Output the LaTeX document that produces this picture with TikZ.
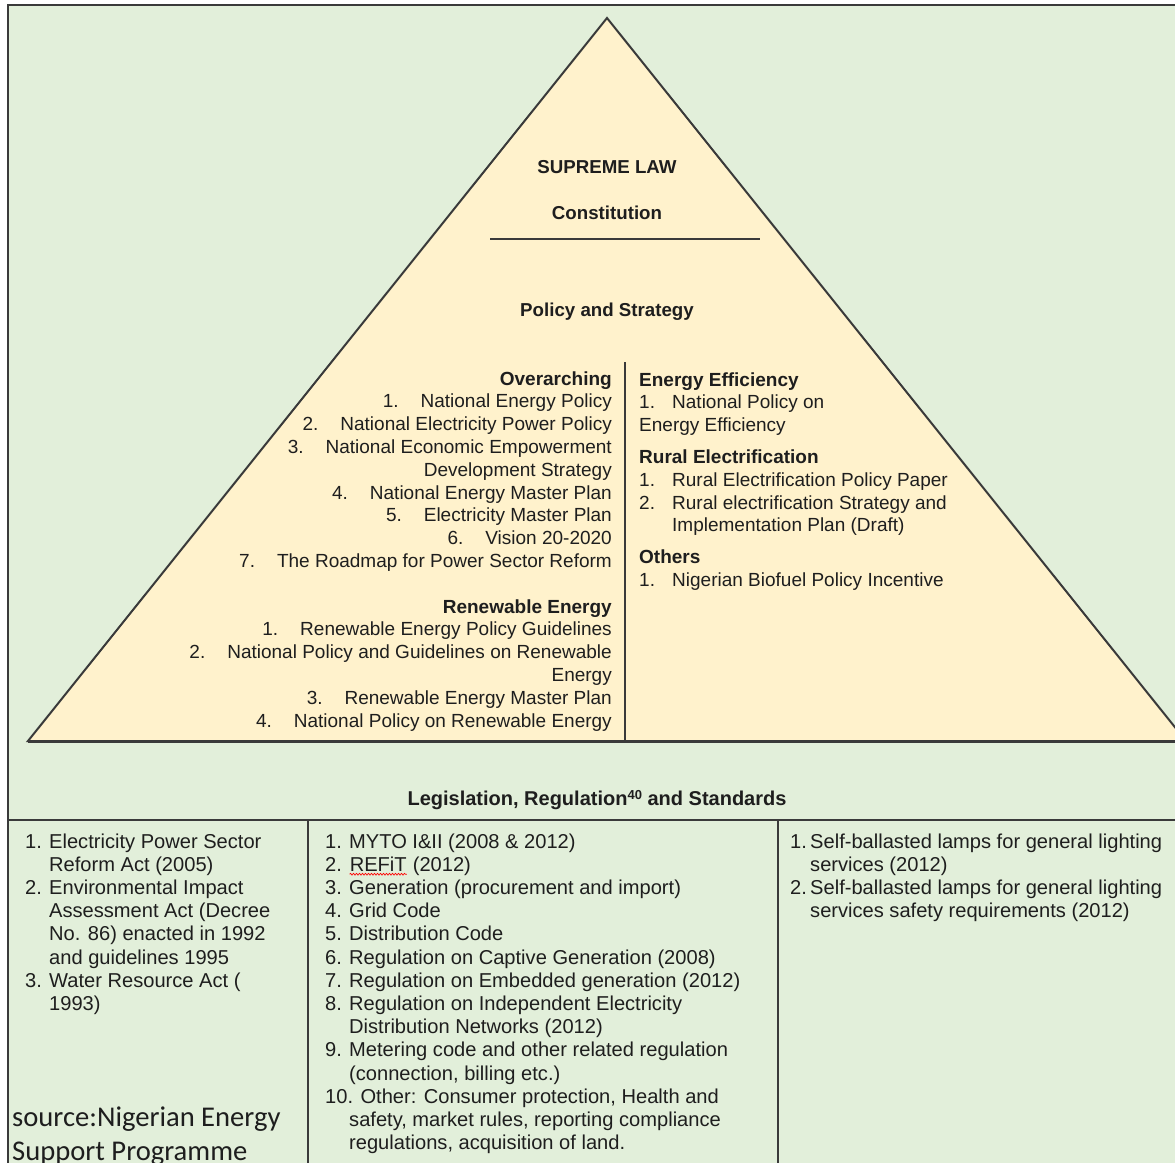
\documentclass[tikz,border=0pt]{standalone}
\usepackage{fontspec}
\setmainfont{Liberation Sans}
\newfontfamily\calfont{Carlito}
\usetikzlibrary{decorations.pathmorphing}
\definecolor{bggreen}{HTML}{E2EFDA}
\definecolor{triyellow}{HTML}{FFF2CC}
\definecolor{linegray}{HTML}{3A3A3A}
\definecolor{txt}{HTML}{1E1E1E}
\newcommand\nb[1]{#1\hspace{22pt}}
\newcommand\redwave[1]{\tikz[baseline=(w.base),x=1cm,y=1cm]{\node[inner sep=0pt,anchor=base] (w) {#1};
  \draw[red, line width=0.7pt, decorate, decoration={snake, amplitude=0.9pt, segment length=3pt}]
    ([yshift=-3pt]w.base west) -- ([yshift=-3pt]w.base east);}}
\begin{document}
\begin{tikzpicture}[x=1pt,y=-1pt,
  hd/.style={font=\fontsize{18.7}{22.8}\selectfont\bfseries, inner sep=0pt, anchor=base, text=txt},
  tri/.style={font=\fontsize{19}{22.8}\selectfont, inner sep=0pt, text=txt},
  tbl/.style={font=\fontsize{20.1}{23.2}\selectfont, inner sep=0pt, anchor=base west, text=txt},
  rule/.style={draw=linegray, line width=2pt}]
\useasboundingbox (0,0) rectangle (1175,1162);
\clip (0,0) rectangle (1175,1162);
\fill[white] (0,0) rectangle (1175,1162);
% frame
\path[fill=bggreen, rule] (8,5) rectangle (1190,1180);
% pyramid
\path[fill=triyellow, rule] (607,18) -- (1186,741) -- (28,741) -- cycle;
\draw[rule, line width=3pt] (28,741) -- (1180,741);
\draw[rule, line width=2.5pt] (490,239) -- (760,239);
\draw[rule, line width=2.5pt] (625,362) -- (625,741);
% table
\draw[rule] (8,820) -- (1190,820);
\draw[rule] (308,820) -- (308,1180);
\draw[rule] (778,820) -- (778,1180);
% headings
\node[hd] (supreme) at (607,173) {SUPREME LAW};
\node[hd] (const) at (607,219) {Constitution};
\node[hd] (policy) at (607,316) {Policy and Strategy};
\node[hd, font=\fontsize{20}{24}\selectfont\bfseries] (legis) at (597,805) {Legislation, Regulation{\fontsize{13}{14}\selectfont\raisebox{5.5pt}{40}} and Standards};
% left column of pyramid
\node[tri, anchor=base east] (overarch) at (612,385) {\begin{tabular}[t]{@{}r@{}}
\textbf{Overarching}\\
\nb{1.}National Energy Policy\\
\nb{2.}National Electricity Power Policy\\
\nb{3.}National Economic Empowerment\\
Development Strategy\\
\nb{4.}National Energy Master Plan\\
\nb{5.}Electricity Master Plan\\
\nb{6.}Vision 20-2020\\
\nb{7.}The Roadmap for Power Sector Reform\\
\\
\textbf{Renewable Energy}\\
\nb{1.}Renewable Energy Policy Guidelines\\
\nb{2.}National Policy and Guidelines on Renewable\\
Energy\\
\nb{3.}Renewable Energy Master Plan\\
\nb{4.}National Policy on Renewable Energy
\end{tabular}};
% right column of pyramid
\node[tri, anchor=base west] (effic) at (639,386) {\begin{tabular}[t]{@{}p{33pt}@{}l@{}}
\multicolumn{2}{@{}l@{}}{\textbf{Energy Efficiency}}\\
1. & National Policy on\\
\multicolumn{2}{@{}l@{}}{Energy Efficiency}\\[9pt]
\multicolumn{2}{@{}l@{}}{\textbf{Rural Electrification}}\\
1. & Rural Electrification Policy Paper\\
2. & Rural electrification Strategy and\\
 & Implementation Plan (Draft)\\[9pt]
\multicolumn{2}{@{}l@{}}{\textbf{Others}}\\
1. & Nigerian Biofuel Policy Incentive
\end{tabular}};
% bottom table
\node[tbl] (legis1) at (25,848) {\begin{tabular}[t]{@{}p{24pt}@{}l@{}}
1. & Electricity Power Sector\\
 & Reform Act (2005)\\
2. & Environmental Impact\\
 & Assessment Act (Decree\\
 & No. 86) enacted in 1992\\
 & and guidelines 1995\\
3. & Water Resource Act (\\
 & 1993)
\end{tabular}};
\node[font=\calfont\fontsize{28.6}{34}\selectfont, anchor=base west, inner sep=0pt, align=left, text=txt] (source) at (12,1160) {source:Nigerian Energy\\Support Programme};
\node[tbl] (regul) at (325,848) {\begin{tabular}[t]{@{}p{24pt}@{}l@{}}
1. & MYTO I\&II (2008 \& 2012)\\
2. & \redwave{REFiT} (2012)\\
3. & Generation (procurement and import)\\
4. & Grid Code\\
5. & Distribution Code\\
6. & Regulation on Captive Generation (2008)\\
7. & Regulation on Embedded generation (2012)\\
8. & Regulation on Independent Electricity\\
 & Distribution Networks (2012)\\
9. & Metering code and other related regulation\\
 & (connection, billing etc.)\\
\multicolumn{2}{@{}l@{}}{10. Other: Consumer protection, Health and}\\
 & safety, market rules, reporting compliance\\
 & regulations, acquisition of land.
\end{tabular}};
\node[tbl] (stand) at (790,848) {\begin{tabular}[t]{@{}p{20pt}@{}l@{}}
1. & Self-ballasted lamps for general lighting\\
 & services (2012)\\
2. & Self-ballasted lamps for general lighting\\
 & services safety requirements (2012)
\end{tabular}};
\end{tikzpicture}
\end{document}
